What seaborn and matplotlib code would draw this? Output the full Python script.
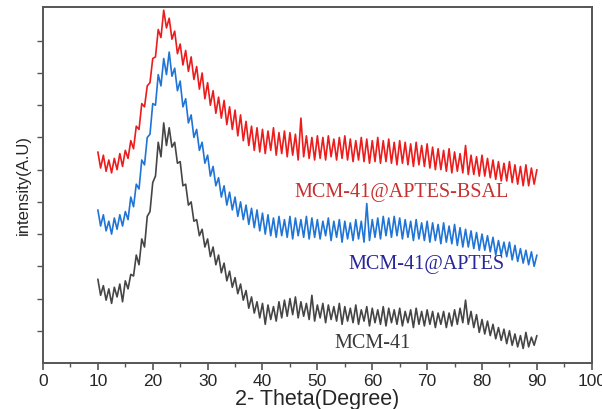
import numpy as np
import pandas as pd
import matplotlib
matplotlib.use("Agg")
import matplotlib.pyplot as plt
import seaborn as sns

# 2-theta from 10 to 90 in 0.5 degree steps
theta = [10 + 0.5 * i for i in range(161)]

mcm41 = [
    2.60, 2.10, 2.40, 1.95, 2.30, 1.85, 2.35, 2.05, 2.45, 1.90,
    2.55, 2.30, 2.75, 2.70, 3.35, 3.05, 3.85, 3.60, 4.55, 4.70,
    5.60, 5.80, 6.85, 6.40, 7.45, 6.75, 7.30, 6.70, 6.85, 6.20,
    6.25, 5.50, 5.55, 4.90, 5.00, 4.40, 4.45, 3.95, 4.15, 3.60,
    3.85, 3.30, 3.60, 3.05, 3.35, 2.80, 3.10, 2.55, 2.85, 2.35,
    2.65, 2.15, 2.45, 1.95, 2.25, 1.70, 2.05, 1.55, 1.90, 1.40,
    1.85, 1.20, 1.80, 1.35, 1.75, 1.30, 1.90, 1.40, 1.95, 1.45,
    2.00, 1.50, 2.05, 1.40, 1.90, 1.45, 1.85, 1.35, 2.10, 1.30,
    1.80, 1.40, 1.85, 1.25, 1.80, 1.35, 1.75, 1.30, 1.85, 1.20,
    1.75, 1.30, 1.70, 1.25, 1.80, 1.20, 1.65, 1.30, 1.75, 1.15,
    1.70, 1.25, 1.65, 1.20, 1.75, 1.15, 1.70, 1.25, 1.65, 1.20,
    1.70, 1.15, 1.60, 1.25, 1.65, 1.10, 1.70, 1.20, 1.60, 1.15,
    1.65, 1.20, 1.60, 1.10, 1.55, 1.20, 1.60, 1.10, 1.55, 1.15,
    1.65, 1.20, 1.70, 1.25, 1.95, 1.20, 1.60, 1.10, 1.50, 0.95,
    1.35, 0.90, 1.30, 0.85, 1.20, 0.75, 1.10, 0.70, 1.05, 0.60,
    1.00, 0.55, 0.90, 0.50, 0.85, 0.45, 0.95, 0.50, 0.80, 0.55,
    0.85,
]

mcm41_aptes = [
    4.75, 4.25, 4.60, 4.10, 4.40, 4.00, 4.50, 4.15, 4.60, 4.25,
    4.70, 4.45, 5.15, 4.85, 5.55, 5.40, 6.30, 6.15, 7.00, 7.10,
    8.05, 8.00, 8.95, 8.60, 9.45, 8.95, 9.65, 8.90, 9.15, 8.45,
    8.75, 7.95, 8.20, 7.45, 7.70, 7.00, 7.25, 6.60, 6.85, 6.20,
    6.45, 5.80, 6.10, 5.50, 5.75, 5.15, 5.50, 4.90, 5.30, 4.75,
    5.15, 4.55, 5.00, 4.45, 4.90, 4.30, 4.80, 4.20, 4.75, 4.10,
    4.65, 4.00, 4.60, 3.95, 4.50, 3.90, 4.55, 3.95, 4.45, 3.90,
    4.55, 3.85, 4.50, 3.95, 4.45, 3.90, 4.55, 3.85, 4.50, 3.90,
    4.45, 3.85, 4.40, 3.95, 4.50, 3.80, 4.40, 3.90, 4.45, 3.75,
    4.40, 3.85, 4.35, 3.80, 4.45, 3.85, 4.40, 3.75, 4.95, 3.80,
    4.45, 3.90, 4.50, 3.85, 4.55, 3.95, 4.50, 3.90, 4.55, 3.95,
    4.50, 3.85, 4.45, 3.90, 4.40, 3.80, 4.45, 3.85, 4.35, 3.80,
    4.40, 3.75, 4.35, 3.80, 4.30, 3.70, 4.35, 3.75, 4.25, 3.70,
    4.30, 3.65, 4.20, 3.60, 4.15, 3.60, 4.10, 3.55, 4.05, 3.50,
    4.00, 3.50, 3.95, 3.45, 3.90, 3.35, 3.80, 3.35, 3.75, 3.30,
    3.75, 3.20, 3.65, 3.15, 3.55, 3.10, 3.50, 3.05, 3.45, 3.00,
    3.35,
]

mcm41_aptes_bsal = [
    6.55, 6.05, 6.45, 5.95, 6.30, 5.90, 6.35, 6.00, 6.50, 6.10,
    6.60, 6.35, 6.90, 6.65, 7.35, 7.25, 8.05, 7.95, 8.60, 8.70,
    9.45, 9.50, 10.35, 10.10, 10.95, 10.40, 10.70, 10.05, 10.30, 9.60,
    9.90, 9.25, 9.70, 9.05, 9.50, 8.80, 9.20, 8.50, 9.00, 8.20,
    8.70, 8.00, 8.45, 7.75, 8.25, 7.60, 8.15, 7.40, 7.95, 7.25,
    7.85, 7.05, 7.70, 6.90, 7.50, 6.75, 7.35, 6.60, 7.30, 6.55,
    7.25, 6.50, 7.20, 6.60, 7.30, 6.45, 7.15, 6.50, 7.20, 6.40,
    7.15, 6.45, 7.10, 6.30, 7.60, 6.40, 7.05, 6.35, 7.00, 6.30,
    7.05, 6.35, 7.00, 6.30, 7.05, 6.40, 6.95, 6.30, 7.00, 6.35,
    7.05, 6.30, 6.95, 6.25, 6.90, 6.30, 7.00, 6.25, 6.95, 6.20,
    6.90, 6.25, 7.00, 6.20, 6.90, 6.25, 6.95, 6.20, 6.85, 6.15,
    6.90, 6.20, 6.85, 6.15, 6.80, 6.10, 6.85, 6.15, 6.75, 6.10,
    6.80, 6.05, 6.70, 6.00, 6.65, 6.00, 6.60, 5.95, 6.65, 5.90,
    6.55, 5.95, 6.50, 5.90, 6.75, 5.85, 6.45, 5.85, 6.40, 5.80,
    6.45, 5.80, 6.35, 5.75, 6.30, 5.70, 6.25, 5.65, 6.20, 5.65,
    6.25, 5.60, 6.15, 5.55, 6.10, 5.50, 6.15, 5.50, 6.05, 5.55,
    6.00,
]

series_names = ["MCM-41", "MCM-41@APTES", "MCM-41@APTES-BSAL"]
line_colors = ["#454545", "#1f74d6", "#ec1c1c"]
label_colors = ["#3a3a3a", "#26269a", "#c83030"]

sns.set_style("ticks")
plt.rcParams["font.family"] = ["Liberation Sans", "DejaVu Sans"]

fig = plt.figure(figsize=(6.02, 4.09), dpi=100)
ax = fig.add_axes([0.0714, 0.1125, 0.9116, 0.8705])

for vals, c in zip([mcm41, mcm41_aptes, mcm41_aptes_bsal], line_colors):
    df = pd.DataFrame({"theta": theta, "I": vals})
    sns.lineplot(data=df, x="theta", y="I", color=c, lw=1.2, ax=ax)

# curve labels
label_pos = [(60.1, 0.6), (69.9, 3.05), (65.4, 5.3)]
for name, c, (lx, ly) in zip(series_names, label_colors, label_pos):
    ax.text(lx, ly, name, color=c, fontsize=14.5, ha="center", va="center",
            family=["Liberation Serif", "DejaVu Serif"])

ax.set_xlim(0, 100)
ax.set_ylim(0, 11.05)
ax.set_xticks(range(0, 101, 10))
ax.set_xticks(range(5, 100, 10), minor=True)
ax.set_yticks(range(1, 11))
ax.set_yticklabels([])
ax.tick_params(axis="x", labelsize=12.5, length=5, width=1.2, color="#555555", pad=3)
ax.tick_params(axis="x", which="minor", length=3, width=1.0, color="#555555")
ax.tick_params(axis="y", length=4, width=1.0, color="#555555")
for s in ax.spines.values():
    s.set_color("#555555")
    s.set_linewidth(1.4)

ax.set_xlabel("2- Theta(Degree)", fontsize=15.5, labelpad=0)
ax.set_ylabel("intensity(A.U)", fontsize=12, labelpad=1)

fig.savefig("out.png", dpi=100)
